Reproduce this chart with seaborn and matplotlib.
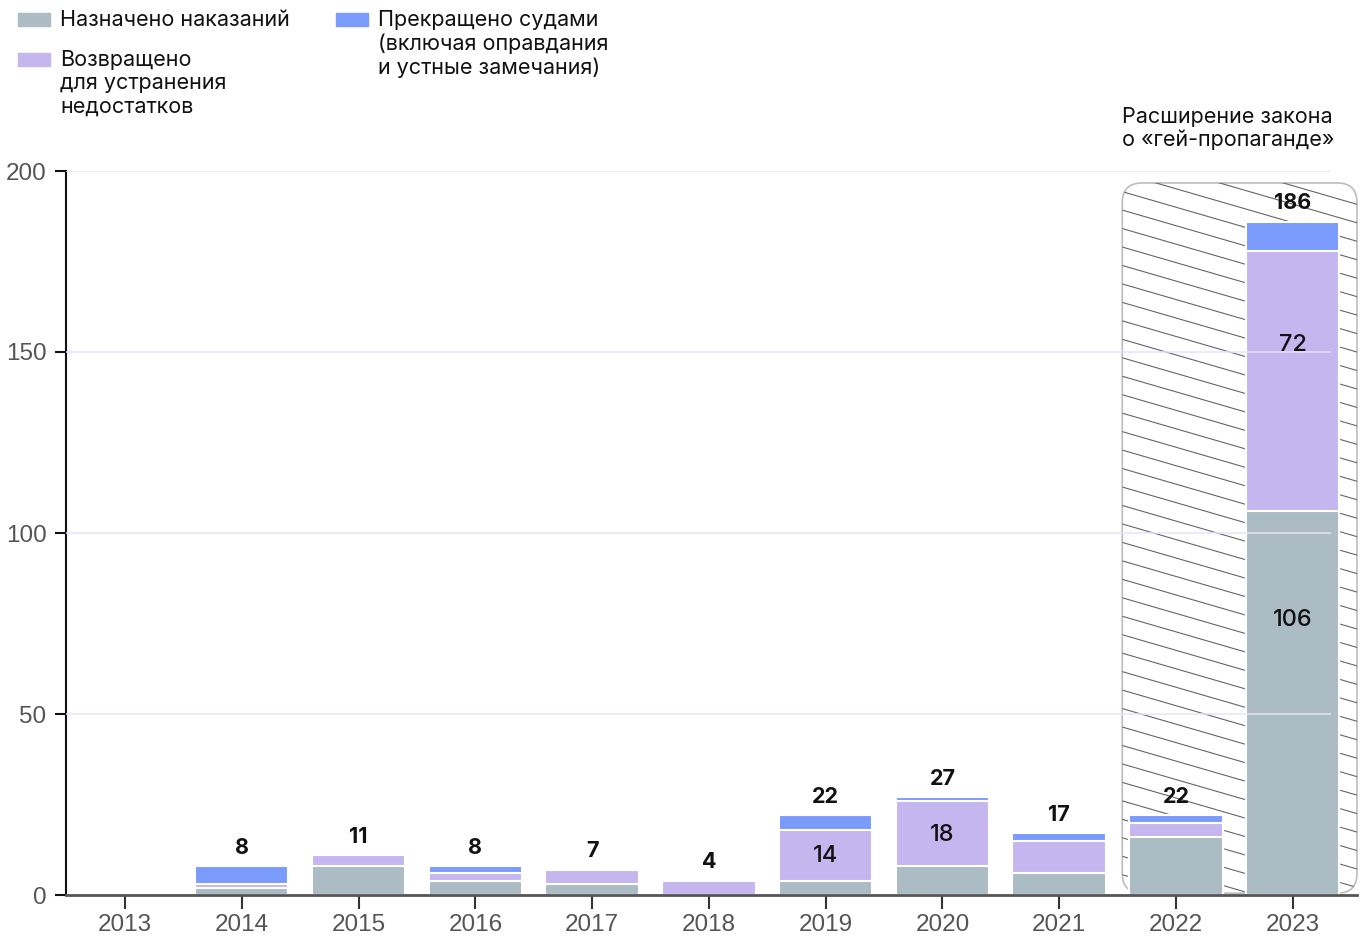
import numpy as np
import pandas as pd
import matplotlib.pyplot as plt
import matplotlib.patches as mpatches
import seaborn as sns

# data
years = ['2013', '2014', '2015', '2016', '2017', '2018', '2019', '2020', '2021', '2022', '2023']
punished = [0, 2, 8, 4, 3, 0, 4, 8, 6, 16, 106]      # Назначено наказаний
returned = [0, 1, 3, 2, 4, 4, 14, 18, 9, 4, 72]      # Возвращено для устранения недостатков
dismissed = [0, 5, 0, 2, 0, 0, 4, 1, 2, 2, 8]        # Прекращено судами
totals = [None, 8, 11, 8, 7, 4, 22, 27, 17, 22, 186]

# labels inside segments: (year, text, y position)
inner_labels = [('2019', '14', 10.8), ('2020', '18', 16.6), ('2023', '72', 152), ('2023', '106', 76)]

c_grey = '#abbcc5'
c_purple = '#c6b6ef'
c_blue = '#7b9bfc'

sns.set_style('white')
plt.rcParams['font.family'] = ['Inter', 'DejaVu Sans']

df = pd.DataFrame({'year': years, 'p': punished, 'r': returned, 'd': dismissed})
df['pr'] = df['p'] + df['r']
df['prd'] = df['pr'] + df['d']

fig = plt.figure(figsize=(13.64, 9.38), dpi=100)
ax = fig.add_axes([66/1364, 1-895/938, (1357-66)/1364, (895-171)/938])

# stacked look: draw cumulative totals from top layer down
for col, c in [('prd', c_blue), ('pr', c_purple), ('p', c_grey)]:
    sns.barplot(data=df, x='year', y=col, color=c, saturation=1, width=0.8,
                edgecolor='white', linewidth=1.5, ax=ax, zorder=2, order=years)

ax.set_xlim(-0.505, 10.55)
ax.set_ylim(0, 200)

# hatched rounded box for 2022-2023
x0, x1, y0, y1 = 8.54, 10.55, 0.5, 196.7
box = mpatches.FancyBboxPatch((x0, y0), x1-x0, y1-y0,
                              boxstyle='round,pad=0,rounding_size=0.17',
                              mutation_aspect=32, facecolor='none',
                              edgecolor='#bdbdbd', linewidth=1.2, zorder=1, clip_on=False)
ax.add_patch(box)
xs = np.array([x0, x1])
for c0 in np.arange(y0, y1 + 30, 5.1):
    ln, = ax.plot(xs, c0 - 9.36*(xs - x0), color='#666666', lw=0.8, zorder=1)
    ln.set_clip_path(box)

# grid lines on top of the bars
for g in [50, 100, 150, 200]:
    ax.hlines(g, -0.505, 10.33, color='#e6e3fa', lw=1.1, zorder=3)

# total labels
for i, t in enumerate(totals):
    if t is None:
        continue
    top = df['prd'][i]
    ax.annotate(str(t), (i, top), xytext=(0, 6), textcoords='offset points',
                ha='center', va='bottom', fontsize=15.5, fontweight='bold', color='#111111', zorder=5)

for yr, txt, yy in inner_labels:
    ax.text(years.index(yr), yy, txt, ha='center', va='center', fontsize=17,
            fontweight='medium', color='#111111', zorder=5)

ax.set_xlabel('')
ax.set_ylabel('')
ax.set_yticks([0, 50, 100, 150, 200])
for s in ['top', 'right']:
    ax.spines[s].set_visible(False)
ax.spines['left'].set_color('#111111')
ax.spines['left'].set_linewidth(1.5)
ax.spines['bottom'].set_color('#555555')
ax.spines['bottom'].set_linewidth(2)
ax.tick_params(axis='y', left=True, length=8, width=1.5, color='#111111', labelsize=17.5,
               labelcolor='#555555', pad=6)
ax.tick_params(axis='x', bottom=True, length=10, width=1.5, color='#333333', labelsize=17.5,
               labelcolor='#555555', pad=4)
for lab in ax.get_xticklabels() + ax.get_yticklabels():
    lab.set_fontfamily(['Liberation Sans', 'DejaVu Sans'])

# legend at the top left
def leg_item(x, y, color, text):
    fig.patches.append(mpatches.Rectangle((x/1364, 1-(y+13)/938), 32/1364, 13/938,
                                          transform=fig.transFigure, color=color))
    fig.text((x+42)/1364, 1-(y-3)/938, text, ha='left', va='top', fontsize=15.5,
             color='#111111', linespacing=1.2)

leg_item(18, 13, c_grey, 'Назначено наказаний')
leg_item(18, 53, c_purple, 'Возвращено\nдля устранения\nнедостатков')
leg_item(336, 13, c_blue, 'Прекращено судами\n(включая оправдания\nи устные замечания)')

fig.text(1122/1364, 1-107/938, 'Расширение закона\nо «гей-пропаганде»', ha='left', va='top',
         fontsize=15.5, color='#111111', linespacing=1.15)

plt.savefig('out.png', dpi=100)
